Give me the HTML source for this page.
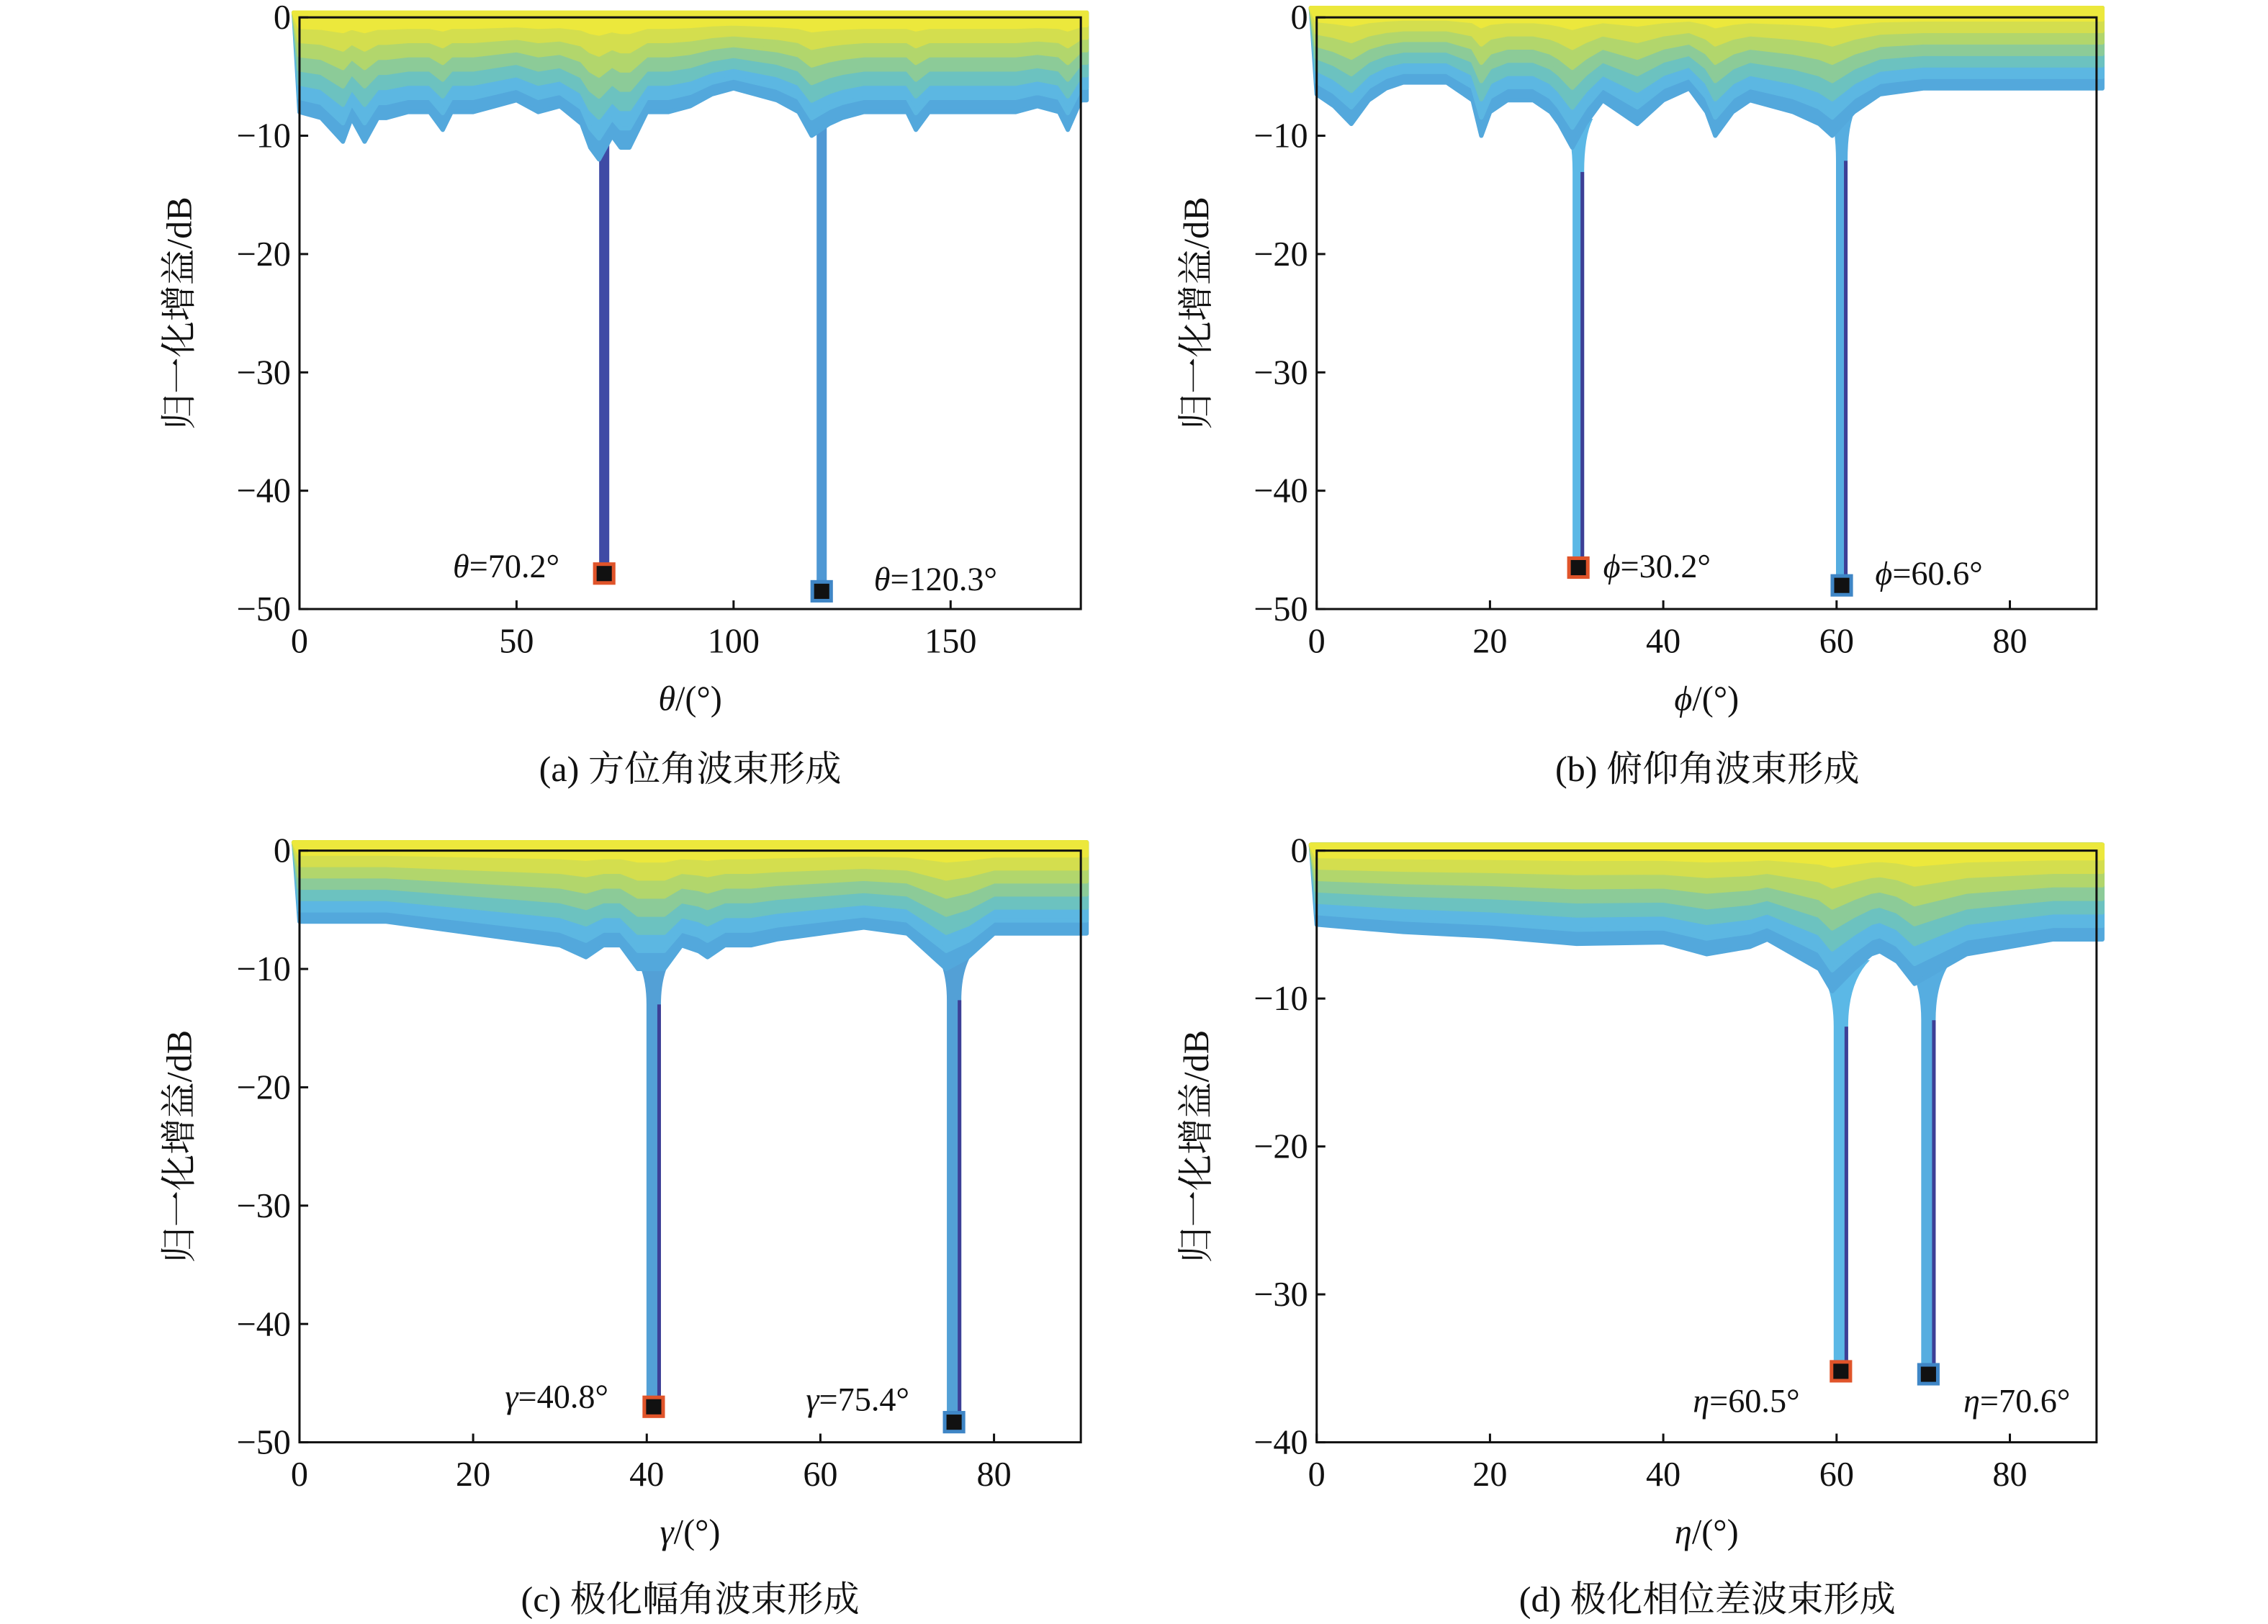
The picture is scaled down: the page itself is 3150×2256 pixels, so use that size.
<!DOCTYPE html>
<html><head><meta charset="utf-8">
<style>
html,body{margin:0;padding:0;background:#fff;}
svg{display:block;}
text{font-family:"Liberation Serif","Noto Serif CJK SC",serif;fill:#111;}
.cjk{font-family:"Liberation Serif","Noto Serif CJK SC","Noto Sans CJK SC",serif;}
</style></head>
<body>
<svg id="fig" width="3150" height="2256" viewBox="0 0 1567.5 1122.6" xmlns="http://www.w3.org/2000/svg"></svg>
<script>
// ---- data ----
const aAngles=[0,5,10,12,15,18,20,25,30,33,35,40,45,50,55,60,65,67,69,72,74,76,80,85,90,95,100,105,110,115,118,122,125,130,135,140,142,145,150,155,160,165,170,175,177,180];
const aEnv=[-8,-8.5,-10.5,-8.5,-10.5,-8.5,-8.5,-8,-8,-9.5,-8,-8,-7.5,-7,-8,-7.5,-9,-11,-12,-10,-11,-11,-8,-8,-7.5,-6.5,-6,-6.5,-7,-8,-10,-9,-8.5,-8,-8,-8,-9.5,-8,-8,-8,-8,-8,-7.5,-8,-9.5,-7];
const aNullAngles=[70.2,120.3];
const aNullDepths=[-47,-48.5];
const bAngles=[0,2,4,6,8,10,15,18,19,20,22,25,27,28,29.5,31,33,35,37,40,43,45,46,48,50,55,58,59.5,62,65,70,80,90];
const bEnv=[-6.5,-7.5,-9,-7,-6,-5.5,-5.5,-7,-10,-8,-7,-7,-8,-9,-11,-9,-7,-8,-9,-7,-6,-8,-10,-8,-7,-8,-9,-10,-8,-6.5,-6,-6,-6];
const bNullAngles=[30.2,60.6];
const bNullDepths=[-46.5,-48];
const cAngles=[0,10,15,20,25,30,33,35,37,39,42,44,46,47,49,52,55,60,65,70,73,74.5,77,80,85,90];
const cEnv=[-6,-6,-6.5,-7,-7.5,-8,-9,-8,-8,-10,-10,-8,-8.5,-9,-8,-8,-7.5,-7,-6.5,-7,-9,-10,-9,-7,-7,-7];
const cNullAngles=[40.8,75.4];
const cNullDepths=[-47,-48.3];
const dAngles=[0,10,20,30,40,45,50,52,55,58,59.5,62,64,65,67,69,72,75,80,85,90];
const dEnv=[-5,-5.5,-5.8,-6.3,-6.2,-7,-6.5,-6,-7,-8,-9.5,-8,-7,-6.8,-7.5,-9,-8,-7,-6.5,-6,-6];
const dNullAngles=[60.5,70.6];
const dNullDepths=[-35.2,-35.4];
const xTicksA=[0,50,100,150];
const xTicks90=[0,20,40,60,80];
const yTicks50=[0,-10,-20,-30,-40,-50];
const yTicks40=[0,-10,-20,-30,-40];
const nullSymA="θ", nullValsA=["70.2°","120.3°"];
const nullSymB="ϕ", nullValsB=["30.2°","60.6°"];
const nullSymC="γ", nullValsC=["40.8°","75.4°"];
const nullSymD="η", nullValsD=["60.5°","70.6°"];

const NS="http://www.w3.org/2000/svg";
const svg=document.getElementById('fig');
function mk(tag,attrs,parent){const e=document.createElementNS(NS,tag);for(const k in attrs)e.setAttribute(k,attrs[k]);(parent||svg).appendChild(e);return e;}
const layerColors=["#53a8dc","#5cb7e2","#6cc2c0","#8ccb98","#b2d66c","#d4de4e","#ece83c"];

function panel(cfg){
  const g=mk('g',{});
  
  
  const X=v=>cfg.L+(v-cfg.x0)/(cfg.x1-cfg.x0)*(cfg.R-cfg.L);
  const Y=v=>cfg.T+(0-v)/(0-cfg.ymin)*(cfg.B-cfg.T);
  const envAt=a=>{const A=cfg.angles,E=cfg.env;for(let i=0;i<A.length-1;i++){if(a>=A[i]&&a<=A[i+1]){const t=(a-A[i])/(A[i+1]-A[i]);return E[i]+t*(E[i+1]-E[i]);}}return E[E.length-1];};
  cfg.nulls.forEach((n,i)=>{
    const d=cfg.depths[i];const e=envAt(n);
    const xc=X(n),hw=cfg.spikeW/2;
    if(cfg.funnel){
      const fw=cfg.funnel;
      const p=mk('path',{d:`M${xc-fw},${Y(e+1.5)} Q${xc-hw},${Y(e)} ${xc-hw},${Y(e-3)} L${xc-hw},${Y(d)} L${xc+hw},${Y(d)} L${xc+hw},${Y(e-3)} Q${xc+hw},${Y(e)} ${xc+fw},${Y(e+1.5)} Z`,fill:cfg.spikeColors[i]},g);
      
      
      const dk=mk('rect',{x:xc+hw-2.5,y:Y(e-3),width:2.5,height:Y(d)-Y(e-3),fill:'#3d3f96'},g);
      
      
    }else{
      const r=mk('rect',{x:xc-hw,y:Y(e+1),width:cfg.spikeW,height:Y(d)-Y(e+1),fill:cfg.spikeColors[i]},g);
      
      
    }
  });
  const N=layerColors.length;
  for(let k=0;k<N;k++){
    const f=1-k/N;
    let d=`M${X(cfg.x0)-4},${Y(cfg.topDb)}`;
    cfg.angles.forEach((a,i)=>{d+=` L${X(a)},${Y(cfg.topDb+(cfg.env[i]-cfg.topDb)*f)}`;});
    d+=` L${X(cfg.x1)+4},${Y(cfg.topDb+(cfg.env[cfg.env.length-1]-cfg.topDb)*f)} L${X(cfg.x1)+4},${Y(cfg.topDb)} Z`;
    const p=mk('path',{d:d,fill:layerColors[k],'stroke':layerColors[k],'stroke-width':3,'stroke-linejoin':'round'},g);
    
    
  }
  cfg.nulls.forEach((n,i)=>{
    const s=mk('rect',{x:X(n)-6.5,y:Y(cfg.depths[i])-6.5,width:13,height:13,fill:'#111',stroke:i==0?'#e0542a':'#3f86c6','stroke-width':2.5},g);
    
    
    const t=mk('text',{x:cfg.labelPos[i][0],y:cfg.labelPos[i][1],'font-size':23},g);
    t.innerHTML=`<tspan font-style="italic">${cfg.sym}</tspan>=${cfg.vals[i]}`;
    
    
  });
  const bx=mk('rect',{x:cfg.L,y:cfg.T,width:cfg.R-cfg.L,height:cfg.B-cfg.T,fill:'none',stroke:'#111','stroke-width':1.5},g);
  
  
  cfg.xticks.forEach(v=>{
    const l=mk('line',{x1:X(v),x2:X(v),y1:cfg.B,y2:cfg.B-6,stroke:'#111','stroke-width':1.5},g);
    
    
    const t=mk('text',{x:X(v),y:cfg.B+30,'font-size':24,'text-anchor':'middle'},g);
    t.textContent=v;
    
    
  });
  cfg.yticks.forEach(v=>{
    const l=mk('line',{x1:cfg.L,x2:cfg.L+6,y1:Y(v),y2:Y(v),stroke:'#111','stroke-width':1.5},g);
    
    
    const t=mk('text',{x:cfg.L-6,y:Y(v)+8,'font-size':24,'text-anchor':'end'},g);
    t.textContent=v===0?'0':'\u2212'+Math.abs(v);
    
    
  });
  const xt=mk('text',{x:(cfg.L+cfg.R)/2,y:cfg.B+70,'font-size':24,'text-anchor':'middle'},g);
  xt.innerHTML=`<tspan font-style="italic">${cfg.sym}</tspan>/(°)`;
  
  
  const cy=(cfg.T+cfg.B)/2;
  const yt=mk('text',{x:cfg.L-75,y:cy,'font-size':25,'text-anchor':'middle',class:'cjk',transform:`rotate(-90 ${cfg.L-75} ${cy})`},g);
  yt.textContent='归一化增益/dB';
  
  
  const cap=mk('text',{x:cfg.capX,y:cfg.capY,'font-size':25,'text-anchor':'middle',class:'cjk'},g);
  cap.textContent=cfg.caption;
  
  
}

panel({name:'panel-a-azimuth',L:207,R:747,T:12,B:421,x0:0,x1:180,ymin:-50,topDb:0.4,angles:aAngles,env:aEnv,nulls:aNullAngles,depths:aNullDepths,spikeW:7,funnel:0,spikeColors:['#3f4aa5','#4f98d4'],sym:nullSymA,vals:nullValsA,labelPos:[[313,399],[604,408]],xticks:xTicksA,yticks:yTicks50,caption:'(a) 方位角波束形成',capX:477,capY:540});
panel({name:'panel-b-elevation',L:910,R:1449,T:12,B:421,x0:0,x1:90,ymin:-50,topDb:0.8,angles:bAngles,env:bEnv,nulls:bNullAngles,depths:bNullDepths,spikeW:8,funnel:10,spikeColors:['#5bb8e6','#56ade0'],sym:nullSymB,vals:nullValsB,labelPos:[[1108,399],[1296,404]],xticks:xTicks90,yticks:yTicks50,caption:'(b) 俯仰角波束形成',capX:1180,capY:540});
panel({name:'panel-c-polarization-amplitude',L:207,R:747,T:588,B:997,x0:0,x1:90,ymin:-50,topDb:0.7,angles:cAngles,env:cEnv,nulls:cNullAngles,depths:cNullDepths,spikeW:10,funnel:16,spikeColors:['#53a0d6','#53a0d6'],sym:nullSymC,vals:nullValsC,labelPos:[[349,973],[557,975]],xticks:xTicks90,yticks:yTicks50,caption:'(c) 极化幅角波束形成',capX:477,capY:1114});
panel({name:'panel-d-polarization-phase',L:910,R:1449,T:588,B:997,x0:0,x1:90,ymin:-40,topDb:0.4,angles:dAngles,env:dEnv,nulls:dNullAngles,depths:dNullDepths,spikeW:10,funnel:20,spikeColors:['#5bb8e6','#56ade0'],sym:nullSymD,vals:nullValsD,labelPos:[[1170,976],[1357,976]],xticks:xTicks90,yticks:yTicks40,caption:'(d) 极化相位差波束形成',capX:1180,capY:1114});
</script>
</body></html>
